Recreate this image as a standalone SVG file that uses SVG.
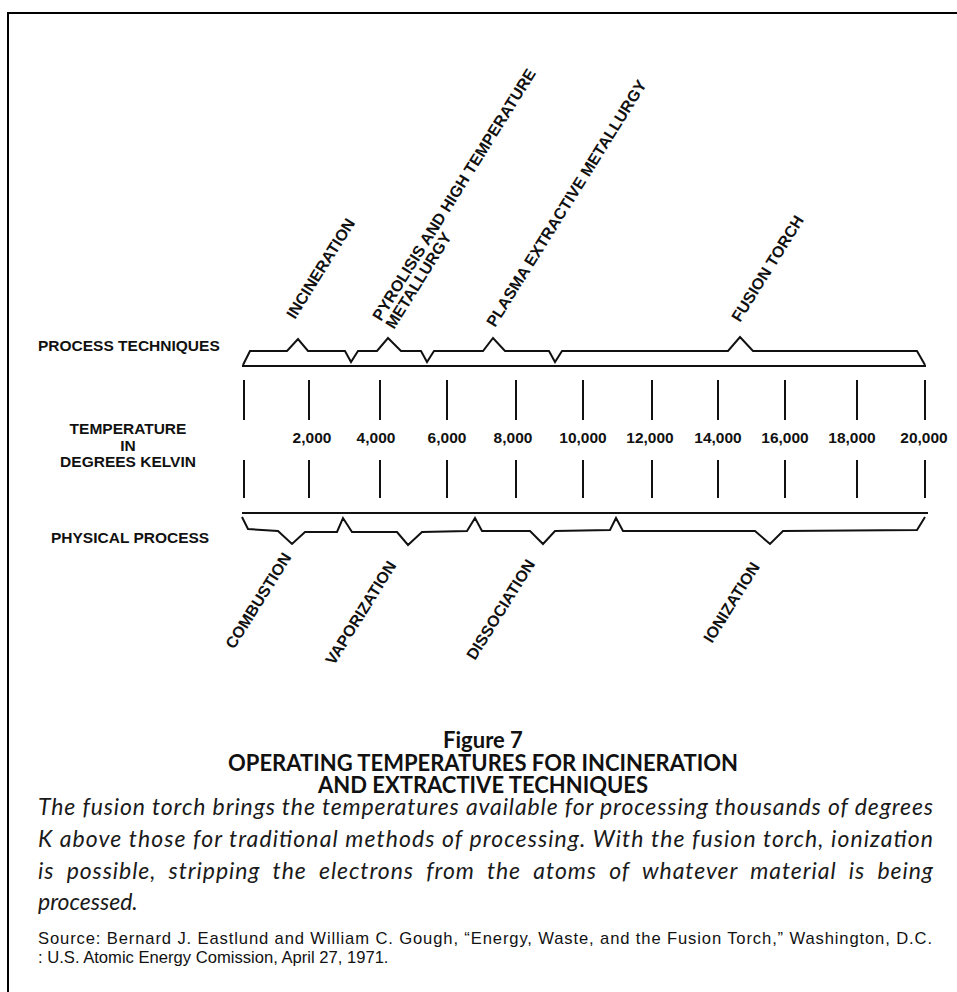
<svg xmlns="http://www.w3.org/2000/svg" width="957" height="992" viewBox="0 0 957 992">
<style>
.lbl{font-family:"Liberation Sans",Arial,sans-serif;font-weight:bold;font-size:15.5px;fill:#111}
.rot{font-family:"Liberation Sans",Arial,sans-serif;font-weight:bold;font-size:16px;fill:#111}
.num{font-family:"Liberation Sans",Arial,sans-serif;font-weight:bold;font-size:15.5px;fill:#111;text-anchor:middle}
.ln{fill:none;stroke:#111;stroke-width:2;stroke-linejoin:miter}
.tick{stroke:#111;stroke-width:2}
.title{font-family:Lato,"Open Sans",sans-serif;font-weight:bold;font-size:22px;fill:#111;text-anchor:middle}
.cap{font-family:Lato,"Open Sans",sans-serif;font-style:italic;font-size:23px;fill:#1a1a1a}
.src{font-family:"Liberation Sans",Arial,sans-serif;font-size:16.6px;fill:#111}
</style>
<rect width="957" height="992" fill="#fff"/>
<path d="M8,992 V13 H957" fill="none" stroke="#000" stroke-width="2"/>

<g id="row-labels">
<text class="lbl" x="38" y="351">PROCESS TECHNIQUES</text>
<text class="lbl" x="128" y="434" text-anchor="middle">TEMPERATURE</text>
<text class="lbl" x="128" y="451" text-anchor="middle">IN</text>
<text class="lbl" x="128" y="467" text-anchor="middle">DEGREES KELVIN</text>
<text class="lbl" x="51" y="543">PHYSICAL  PROCESS</text>
</g>

<g id="connectors">
<path id="process-bracket" class="ln" d="M243,365 L250,351 L287,351 L298,339 L308,351 L345,351 L351,362 L358,351 L377,351 L388,338 L401,351 L421,351 L427,362 L434,351 L483,351 L493,338 L505,351 L549,351 L555,362 L562,351 L728,351 L740,337 L753,351 L917,351 L925,365"/>
<line class="ln" x1="242" y1="366" x2="926" y2="366"/>
<line class="ln" x1="242" y1="513" x2="928" y2="513"/>
<path id="physical-bracket" class="ln" d="M242,517 L248,529 L278,531 L292,544 L305,532 L337,532 L343,518 L352,532 L397,532 L408,545 L422,532 L467,531 L475,518 L482,531 L530,531 L543,544 L555,531 L610,530 L616,518 L623,531 L755,531 L770,544 L783,531 L917,530 L925,517"/>
<g id="ticks">
<line class="tick" x1="244" y1="380" x2="244" y2="420"/><line class="tick" x1="244" y1="460" x2="244" y2="498"/>
<line class="tick" x1="309" y1="380" x2="309" y2="420"/><line class="tick" x1="309" y1="460" x2="309" y2="498"/>
<line class="tick" x1="380" y1="380" x2="380" y2="420"/><line class="tick" x1="380" y1="460" x2="380" y2="498"/>
<line class="tick" x1="447" y1="380" x2="447" y2="420"/><line class="tick" x1="447" y1="460" x2="447" y2="498"/>
<line class="tick" x1="516" y1="380" x2="516" y2="420"/><line class="tick" x1="516" y1="460" x2="516" y2="498"/>
<line class="tick" x1="583" y1="380" x2="583" y2="420"/><line class="tick" x1="583" y1="460" x2="583" y2="498"/>
<line class="tick" x1="652" y1="380" x2="652" y2="420"/><line class="tick" x1="652" y1="460" x2="652" y2="498"/>
<line class="tick" x1="718" y1="380" x2="718" y2="420"/><line class="tick" x1="718" y1="460" x2="718" y2="498"/>
<line class="tick" x1="785" y1="380" x2="785" y2="420"/><line class="tick" x1="785" y1="460" x2="785" y2="498"/>
<line class="tick" x1="857" y1="380" x2="857" y2="420"/><line class="tick" x1="857" y1="460" x2="857" y2="498"/>
<line class="tick" x1="925" y1="380" x2="925" y2="420"/><line class="tick" x1="925" y1="460" x2="925" y2="498"/>
</g>
</g>

<g id="temperatures">
<text class="num" x="312" y="443">2,000</text>
<text class="num" x="376" y="443">4,000</text>
<text class="num" x="447" y="443">6,000</text>
<text class="num" x="513" y="443">8,000</text>
<text class="num" x="583" y="443">10,000</text>
<text class="num" x="650" y="443">12,000</text>
<text class="num" x="718" y="443">14,000</text>
<text class="num" x="785" y="443">16,000</text>
<text class="num" x="852" y="443">18,000</text>
<text class="num" x="924" y="443">20,000</text>
</g>

<g id="incineration"><text class="rot" transform="translate(295,320) rotate(-58)">INCINERATION</text></g>
<g id="pyrolisis"><text class="rot" transform="translate(381,322) rotate(-58)">PYROLISIS AND HIGH TEMPERATURE</text><text class="rot" transform="translate(394,330) rotate(-58)">METALLURGY</text></g>
<g id="plasma"><text class="rot" transform="translate(495,328) rotate(-58)">PLASMA EXTRACTIVE METALLURGY</text></g>
<g id="fusion-torch"><text class="rot" transform="translate(740,323) rotate(-58)">FUSION TORCH</text></g>

<g id="combustion"><text class="rot" transform="translate(234,650) rotate(-58)">COMBUSTION</text></g>
<g id="vaporization"><text class="rot" transform="translate(334,666) rotate(-58)">VAPORIZATION</text></g>
<g id="dissociation"><text class="rot" transform="translate(475,661) rotate(-58)">DISSOCIATION</text></g>
<g id="ionization"><text class="rot" transform="translate(712,644) rotate(-58)">IONIZATION</text></g>

<g id="caption">
<text class="title" x="483" y="748">Figure 7</text>
<text class="title" x="483" y="771">OPERATING TEMPERATURES FOR INCINERATION</text>
<text class="title" x="483" y="793">AND EXTRACTIVE TECHNIQUES</text>
<text class="cap" x="38" y="815" textLength="895" lengthAdjust="spacing">The fusion torch brings the temperatures available for processing thousands of degrees</text>
<text class="cap" x="38" y="847" textLength="895" lengthAdjust="spacing">K above those for traditional methods of processing. With the fusion torch, ionization</text>
<text class="cap" x="38" y="879" textLength="895" lengthAdjust="spacing" word-spacing="6">is possible, stripping the electrons from the atoms of whatever material is being</text>
<text class="cap" x="38" y="910">processed.</text>
<text class="src" x="38" y="944" textLength="894" lengthAdjust="spacing">Source: Bernard J. Eastlund and William C. Gough, “Energy, Waste, and the Fusion Torch,” Washington, D.C.</text>
<text class="src" x="38" y="963">: U.S. Atomic Energy Comission, April 27, 1971.</text>
</g>
</svg>
